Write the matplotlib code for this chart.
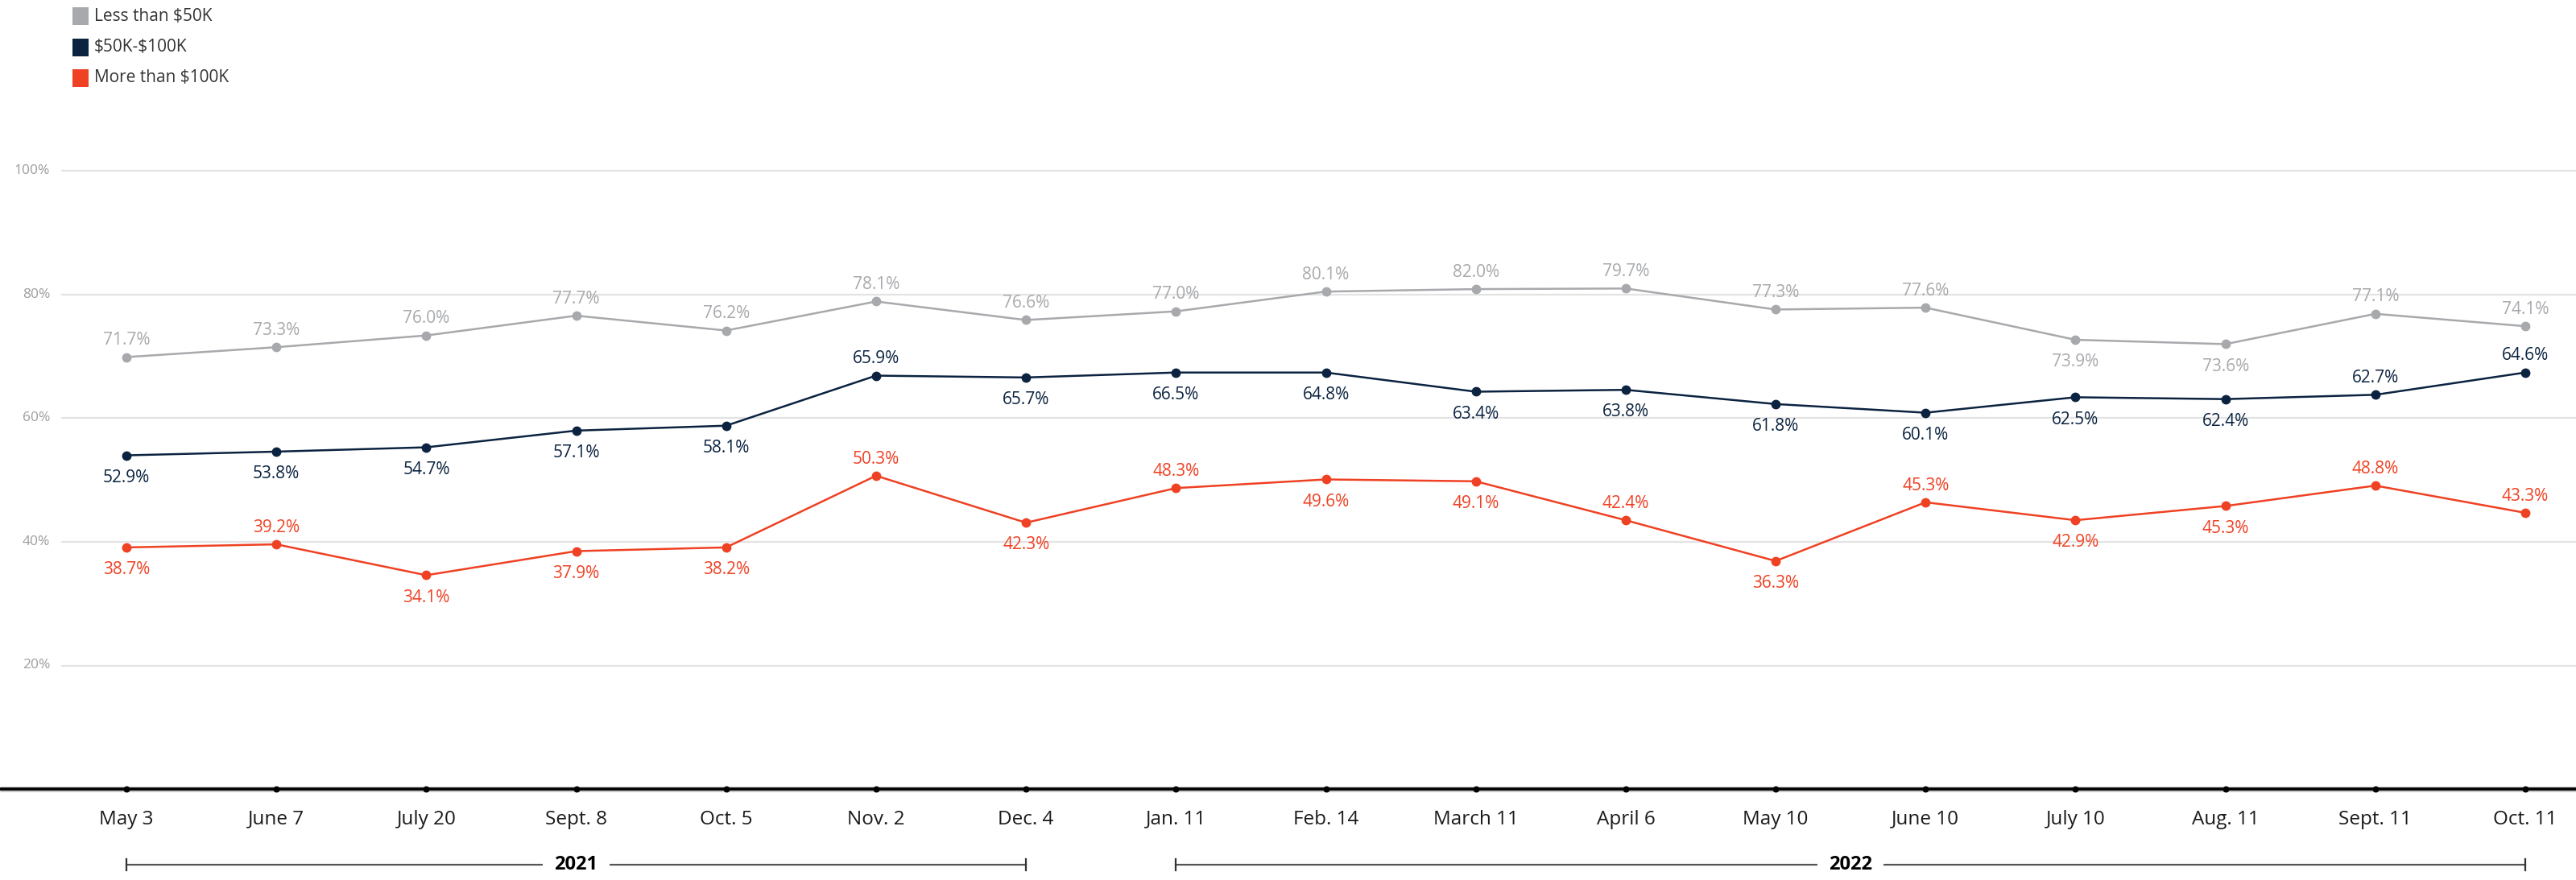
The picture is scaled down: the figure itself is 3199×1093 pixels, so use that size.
import matplotlib

matplotlib.use("Agg")
import matplotlib.pyplot as plt
from matplotlib.patches import Rectangle
import numpy as np

# ---------- data ---------- #
dates = ["May 3", "June 7", "July 20", "Sept. 8", "Oct. 5", "Nov. 2", "Dec. 4",
         "Jan. 11", "Feb. 14", "March 11", "April 6", "May 10", "June 10",
         "July 10", "Aug. 11", "Sept. 11", "Oct. 11"]

series_names = [r"Less than \$50K", r"\$50K-\$100K", r"More than \$100K"]

low_vals = [69.9, 71.5, 73.4, 76.6, 74.2, 78.9, 75.9, 77.3, 80.5, 80.9, 81.0,
            77.6, 77.9, 72.7, 72.0, 76.9, 74.9]
low_labels = ["71.7%", "73.3%", "76.0%", "77.7%", "76.2%", "78.1%", "76.6%", "77.0%",
              "80.1%", "82.0%", "79.7%", "77.3%", "77.6%", "73.9%", "73.6%", "77.1%", "74.1%"]

mid_vals = [54.0, 54.6, 55.3, 58.0, 58.8, 66.9, 66.6, 67.4, 67.4, 64.3, 64.6,
            62.3, 60.9, 63.4, 63.1, 63.8, 67.4]
mid_labels = ["52.9%", "53.8%", "54.7%", "57.1%", "58.1%", "65.9%", "65.7%", "66.5%",
              "64.8%", "63.4%", "63.8%", "61.8%", "60.1%", "62.5%", "62.4%", "62.7%", "64.6%"]

high_vals = [39.1, 39.6, 34.6, 38.5, 39.1, 50.7, 43.1, 48.7, 50.1, 49.8, 43.5,
             36.9, 46.4, 43.5, 45.8, 49.1, 44.7]
high_labels = ["38.7%", "39.2%", "34.1%", "37.9%", "38.2%", "50.3%", "42.3%", "48.3%",
               "49.6%", "49.1%", "42.4%", "36.3%", "45.3%", "42.9%", "45.3%", "48.8%", "43.3%"]

y_ticks = [20, 40, 60, 80, 100]
years = [("2021", 0, 6), ("2022", 7, 16)]

# label side: +1 above the point, -1 below
low_side = [1] * 13 + [-1, -1] + [1, 1]
mid_side = [-1] * 5 + [1] + [-1] * 9 + [1, 1]
high_side = [-1, 1, -1, -1, -1, 1, -1, 1, -1, -1, 1, -1, 1, -1, -1, 1, 1]

# ---------- style ---------- #
GRAY = "#a7a9ac"
NAVY = "#0b2340"
RED = "#ef4123"
plt.rcParams["font.family"] = ["Open Sans", "DejaVu Sans"]

W, H = 3199, 1093
Y0_PX, Y100_PX = 980, 212.5  # pixel rows of 0% and 100%

fig = plt.figure(figsize=(W / 100, H / 100), dpi=100)
fig.patch.set_facecolor("white")

ax = fig.add_axes([0, (H - Y0_PX) / H, 1, (Y0_PX - Y100_PX) / H])
step = (3136 - 157) / 16
ax.set_xlim(-157 / step, (W - 157) / step)
ax.set_ylim(0, 100)
ax.axis("off")

x = np.arange(len(dates))
x_left = (77 - 157) / step

# gridlines + y labels
for t in y_ticks:
    ax.plot([x_left, ax.get_xlim()[1]], [t, t], color="#e3e3e3", lw=1.6, zorder=1,
            clip_on=False)
    ax.text((62 - 157) / step, t, f"{t}%", ha="right", va="center", fontsize=12.5,
            color="#9d9d9d", clip_on=False)

# baseline axis
ax.plot(ax.get_xlim(), [0, 0], color="#c8c8c8", lw=5, zorder=2, clip_on=False,
        solid_capstyle="butt")
ax.plot(ax.get_xlim(), [0, 0], color="black", lw=2.6, zorder=3, clip_on=False,
        solid_capstyle="butt")
ax.scatter(x, np.zeros(len(x)), s=22, color="black", zorder=4, clip_on=False)

for xi, d in zip(x, dates):
    ax.annotate(d, (xi, 0), xytext=(0, -27), textcoords="offset points",
                ha="center", va="center", fontsize=17.5, color="#1a1a1a",
                annotation_clip=False)

# year brackets
trans = ax.get_xaxis_transform()
yb = -(1074 - Y0_PX) / (Y0_PX - Y100_PX)
for label, i0, i1 in years:
    ax.plot([i0, i1], [yb, yb], color="#555555", lw=1.6, transform=trans,
            clip_on=False)
    for xe in (i0, i1):
        ax.plot([xe, xe], [yb - 0.009, yb + 0.009], color="#333333", lw=1.6,
                transform=trans, clip_on=False)
    ax.text((i0 + i1) / 2, yb, label, transform=trans, ha="center", va="center",
            fontsize=17, fontweight="bold", color="black", clip_on=False,
            bbox=dict(boxstyle="square,pad=0.6", fc="white", ec="none"))

# series
series = [
    (low_vals, low_labels, low_side, GRAY),
    (mid_vals, mid_labels, mid_side, NAVY),
    (high_vals, high_labels, high_side, RED),
]
for vals, labels, sides, col in series:
    ax.plot(x, vals, color=col, lw=1.8, marker="o", markersize=7.5, zorder=5,
            clip_on=False)
    for xi, v, lab, s in zip(x, vals, labels, sides):
        off = 15 if s > 0 else -20
        ax.annotate(lab, (xi, v), xytext=(0, off), textcoords="offset points",
                    ha="center", va="center", fontsize=15, color=col,
                    annotation_clip=False)

# legend (top left)
for i, (name, col) in enumerate(zip(series_names, [GRAY, NAVY, RED])):
    yc = 20 + i * 38.5
    fig.add_artist(Rectangle((90 / W, (H - yc - 11) / H), 20 / W, 22 / H,
                             transform=fig.transFigure, color=col, lw=0))
    fig.text(117 / W, (H - yc) / H, name, ha="left", va="center", fontsize=15,
             color="#333333")

fig.savefig("out.png", dpi=100, facecolor="white")
